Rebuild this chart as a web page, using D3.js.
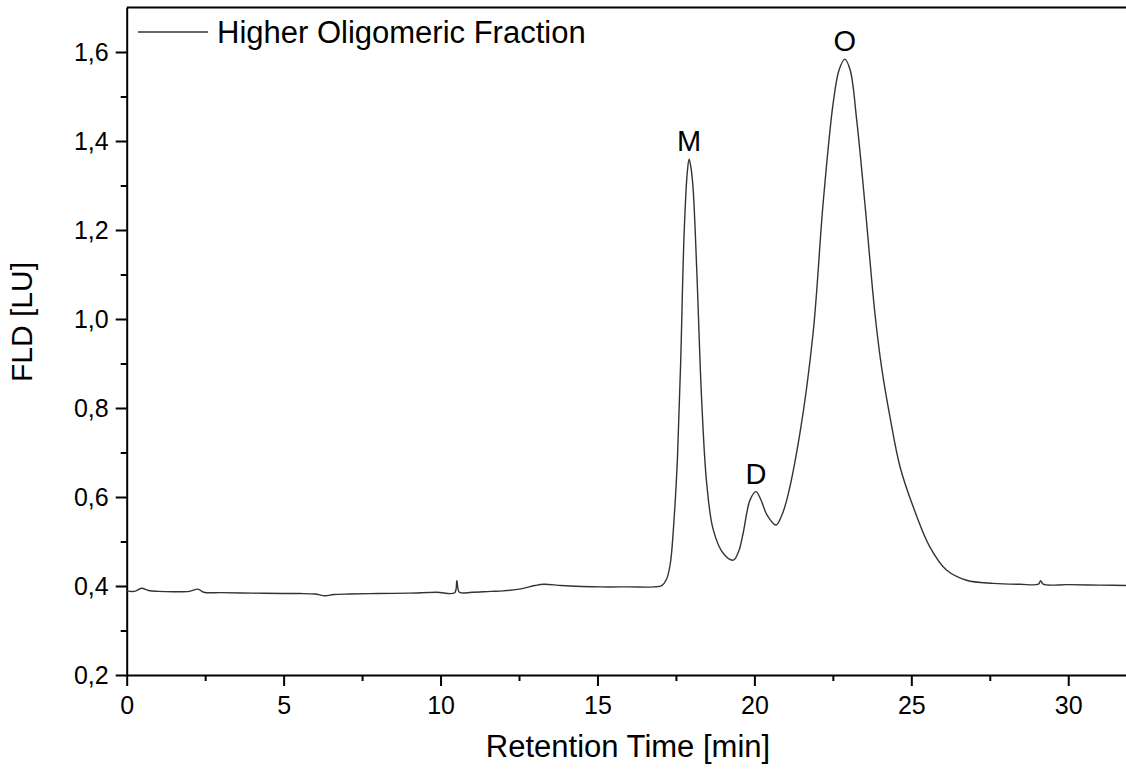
<!DOCTYPE html>
<html>
<head>
<meta charset="utf-8">
<script src="https://cdn.jsdelivr.net/npm/d3@7.9.0/dist/d3.min.js"></script>
<style>
  body { margin: 0; background: #fff; }
  svg { display: block; font-family: "Liberation Sans", Arial, sans-serif; }
  .axis path, .axis line { stroke: #000; stroke-width: 2; }
  .axis text { font-size: 25px; fill: #000; }
</style>
</head>
<body>
<svg id="chart" width="1126" height="774"></svg>
<script>
// retention time (min) and fluorescence signal (LU)
const retentionTime = [
  0.00, 0.25, 0.47, 0.70, 1.00, 1.50, 2.00, 2.27, 2.45, 3.00,
  4.00, 5.00, 5.52, 6.00, 6.32, 6.60, 7.10, 8.00, 9.00, 9.87,
  10.45, 10.52, 10.60, 11.00, 11.60, 12.00, 12.60, 13.00, 13.30, 13.85,
  14.50, 15.10, 16.00, 16.80, 17.05, 17.20, 17.32, 17.45, 17.55, 17.65,
  17.76, 17.86, 17.92, 17.98, 18.05, 18.16, 18.32, 18.48, 18.69, 19.01,
  19.33, 19.50, 19.64, 19.86, 20.05, 20.20, 20.40, 20.69, 20.85, 21.03,
  21.45, 21.87, 22.19, 22.51, 22.70, 22.88, 23.05, 23.26, 23.52, 23.84,
  24.05, 24.32, 24.64, 25.06, 25.59, 26.12, 26.76, 27.61, 28.46, 29.05,
  29.12, 29.20, 30.00, 31.00, 32.00
];
const fldSignal = [
  0.389, 0.388, 0.395, 0.390, 0.388, 0.387, 0.388, 0.393, 0.386, 0.385,
  0.384, 0.383, 0.383, 0.382, 0.378, 0.381, 0.382, 0.383, 0.384, 0.386,
  0.385, 0.412, 0.386, 0.386, 0.388, 0.389, 0.394, 0.401, 0.404, 0.401,
  0.399, 0.398, 0.398, 0.398, 0.401, 0.415, 0.450, 0.560, 0.690, 0.900,
  1.190, 1.328, 1.359, 1.340, 1.290, 1.117, 0.818, 0.631, 0.526, 0.473,
  0.458, 0.478, 0.518, 0.593, 0.612, 0.595, 0.560, 0.537, 0.555, 0.593,
  0.743, 0.968, 1.260, 1.485, 1.560, 1.584, 1.560, 1.447, 1.260, 1.013,
  0.893, 0.780, 0.668, 0.578, 0.488, 0.436, 0.413, 0.406, 0.404, 0.404,
  0.412, 0.404, 0.403, 0.402, 0.401
];

const xTicks = [0, 5, 10, 15, 20, 25, 30];
const xMinorTicks = [2.5, 7.5, 12.5, 17.5, 22.5, 27.5];
const yTicks = [0.2, 0.4, 0.6, 0.8, 1.0, 1.2, 1.4, 1.6];
const yMinorTicks = [0.3, 0.5, 0.7, 0.9, 1.1, 1.3, 1.5];

const peakNames = ['M', 'D', 'O'];
const peakTimes = [17.92, 20.05, 22.88];
const peakValues = [1.359, 0.612, 1.584];

const seriesName = 'Higher Oligomeric Fraction';

const svg = d3.select('#chart');
const plotLeft = 126.7, plotRight = 1131, plotTop = 7.5, plotBottom = 675;

const x = d3.scaleLinear().domain([0, 32]).range([plotLeft, plotRight]);
const y = d3.scaleLinear().domain([0.2, 1.7]).range([plotBottom, plotTop]);

const comma = d3.formatLocale({ decimal: ',', thousands: '.', grouping: [3], currency: ['', ''] });
const fmtY = comma.format('.1f');

// frame (top / right)
svg.append('line')
  .attr('x1', plotLeft).attr('x2', plotRight).attr('y1', plotTop).attr('y2', plotTop)
  .attr('stroke', '#000').attr('stroke-width', 2);
svg.append('line')
  .attr('x1', plotRight).attr('x2', plotRight).attr('y1', plotTop).attr('y2', plotBottom)
  .attr('stroke', '#000').attr('stroke-width', 2);

// minor ticks
svg.append('g').attr('class', 'axis')
  .attr('transform', `translate(0,${plotBottom})`)
  .call(d3.axisBottom(x).tickValues(xMinorTicks).tickSize(6).tickFormat(''))
  .select('.domain').remove();
svg.append('g').attr('class', 'axis')
  .attr('transform', `translate(${plotLeft},0)`)
  .call(d3.axisLeft(y).tickValues(yMinorTicks).tickSize(6).tickFormat(''))
  .select('.domain').remove();

// major axes
svg.append('g').attr('class', 'axis')
  .attr('transform', `translate(0,${plotBottom})`)
  .call(d3.axisBottom(x).tickValues(xTicks).tickSize(11).tickSizeOuter(0).tickPadding(10));
svg.append('g').attr('class', 'axis')
  .attr('transform', `translate(${plotLeft},0)`)
  .call(d3.axisLeft(y).tickValues(yTicks).tickSize(11).tickSizeOuter(0).tickPadding(7).tickFormat(fmtY));

// trace
const trace = retentionTime.map((t, i) => ({ t, v: fldSignal[i] }));
const line = d3.line()
  .x(d => x(d.t))
  .y(d => y(d.v))
  .curve(d3.curveCatmullRom.alpha(0.5));

svg.append('path')
  .datum(trace)
  .attr('fill', 'none')
  .attr('stroke', '#333')
  .attr('stroke-width', 1.4)
  .attr('d', line);

// peak labels
svg.selectAll('.peak')
  .data(peakNames)
  .enter()
  .append('text')
  .attr('class', 'peak')
  .attr('x', (_, i) => x(peakTimes[i]))
  .attr('y', (_, i) => y(peakValues[i]) - 8)
  .attr('text-anchor', 'middle')
  .attr('font-size', 29)
  .text(d => d);

// legend
svg.append('line')
  .attr('x1', 138).attr('x2', 208).attr('y1', 32).attr('y2', 32)
  .attr('stroke', '#333').attr('stroke-width', 1.4);
svg.append('text')
  .attr('x', 217).attr('y', 43)
  .attr('font-size', 31)
  .text(seriesName);

// axis titles
svg.append('text')
  .attr('x', 628).attr('y', 757)
  .attr('text-anchor', 'middle')
  .attr('font-size', 31)
  .text('Retention Time [min]');
svg.append('text')
  .attr('transform', `translate(32,322) rotate(-90)`)
  .attr('text-anchor', 'middle')
  .attr('font-size', 30)
  .text('FLD [LU]');
</script>
</body>
</html>
